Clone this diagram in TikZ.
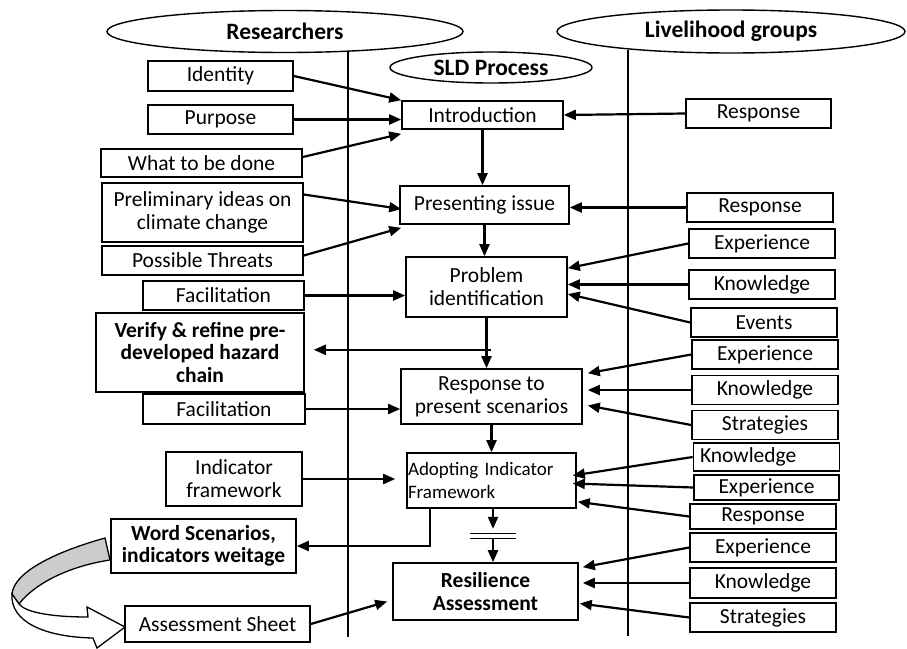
\documentclass[tikz,border=0pt]{standalone}
\usepackage{fontspec}
\setmainfont{Carlito}
\usetikzlibrary{shapes, arrows.meta, positioning, calc}

\begin{document}
\begin{tikzpicture}[x=1pt, y=-1pt,
            box/.style={draw=black, line width=1.6pt, inner sep=1pt, align=center, font=\fontsize{21.5}{23}\selectfont},
            bbox/.style={box, font=\bfseries\fontsize{21.5}{22.5}\selectfont},
            rbox/.style={box, minimum width=146pt, minimum height=29pt},
            hd/.style={ellipse, draw=black, line width=1.4pt, inner sep=0pt, font=\bfseries\fontsize{23.5}{26}\selectfont},
            arr/.style={-{Triangle[length=12pt, width=10pt]}, line width=2.2pt},
            vl/.style={draw=black, line width=1.6pt}]
            \useasboundingbox (0,0) rectangle (907,648);
            % headings
            \node[hd, minimum width=356pt, minimum height=42pt] (re) at (285,31.5) {Researchers};
            \node[hd, minimum width=348pt, minimum height=43pt] (lg) at (731,31.5) {Livelihood groups};
            \node[hd, minimum width=202pt, minimum height=31pt] (sld) at (491,67.5) {SLD Process};
            \draw[vl] (348,51) -- (348,637);
            \draw[vl] (628,50) -- (628,636);
            % process
            \node[box, minimum width=161pt, minimum height=28pt] (in) at (482.5,115) {Introduction};
            \node[box, minimum width=169pt, minimum height=38pt] (ps) at (484.5,205) {Presenting issue};
            \node[box, minimum width=161pt, minimum height=60pt] (pi) at (486.5,287) {Problem\\identification};
            \node[box, minimum width=181pt, minimum height=55pt] (rp) at (491.5,396.5) {Response to\\present scenarios};
            \node[box, text width=167pt, minimum height=55pt, align=left, font=\fontsize{19}{23}\selectfont] (ad) at (491.5,480.5) {Adopting Indicator\\Framework};
            \node[bbox, minimum width=185pt, minimum height=57pt] (ra) at (485.5,591.5) {Resilience\\Assessment};
            % researchers
            \node[box, minimum width=145pt, minimum height=30pt] (id) at (220.5,76) {Identity};
            \node[box, minimum width=145pt, minimum height=29pt] (pu) at (220.5,119.5) {Purpose};
            \node[box, minimum width=201pt, minimum height=28pt] (wd) at (201.5,163) {What to be done};
            \node[box, minimum width=201pt, minimum height=59pt] (pr) at (202.5,212.5) {Preliminary ideas on\\climate change};
            \node[box, minimum width=201pt, minimum height=29pt] (pt) at (202.5,260.5) {Possible Threats};
            \node[box, minimum width=161pt, minimum height=29pt] (fa1) at (223.5,295.5) {Facilitation};
            \node[bbox, minimum width=208pt, minimum height=79pt] (vf) at (200,352.5) {Verify \& refine pre-\\developed hazard\\chain};
            \node[box, minimum width=162pt, minimum height=30pt] (fa2) at (224,409) {Facilitation};
            \node[box, minimum width=136pt, minimum height=54pt] (ind) at (234,479) {Indicator\\framework};
            \node[bbox, minimum width=185pt, minimum height=54pt] (ws) at (203.5,546) {Word Scenarios,\\indicators weitage};
            \node[box, minimum width=185pt, minimum height=36pt] (as) at (217.5,624) {Assessment Sheet};
            % livelihood groups
            \node[rbox, minimum width=145pt] (r1) at (758.5,113.5) {Response};
            \node[rbox] (r2) at (760,207.5) {Response};
            \node[rbox] (ex1) at (762,243.5) {Experience};
            \node[rbox] (kn1) at (762,284.5) {Knowledge};
            \node[rbox] (ev) at (764,322.5) {Events};
            \node[rbox] (ex2) at (765,354.5) {Experience};
            \node[rbox] (kn2) at (765,390) {Knowledge};
            \node[rbox] (st1) at (765,425) {Strategies};
            \node[rbox, text width=139pt, minimum height=28pt, align=left] (kn3) at (766.5,457) {\hspace{3pt}Knowledge};
            \node[rbox, minimum width=145pt, minimum height=25pt] (ex3) at (766.5,487.5) {Experience};
            \node[rbox, minimum height=25pt] (re3) at (763,516.5) {Response};
            \node[rbox] (ex4) at (763,547.5) {Experience};
            \node[rbox, minimum height=30pt] (kn4) at (763,583) {Knowledge};
            \node[rbox] (st2) at (763,617.5) {Strategies};
            % flow
            \draw[arr] (in.south) -- (in.south |- ps.north);
            \draw[arr] (ps.south) -- (ps.south |- pi.north);
            \draw[arr] (pi.south) -- (pi.south |- rp.north);
            \draw[arr] (rp.south) -- (rp.south |- ad.north);
            \coordinate (c1) at ($(ad.south)+(1.5,20)$);
            \coordinate (c2) at ($(c1)+(0,10)$);
            \draw[arr] (ad.south -| c1) -- (c1);
            \draw[line width=1.3pt] ($(c1)+(-23,5)$) -- ++(46,0) ($(c1)+(-23,10)$) -- ++(46,0);
            \draw[arr] (c2) -- (c2 |- ra.north);
            \coordinate (vs) at ($(pi.south)+(4,32)$);
            \draw[arr] (vs) -- ($(vs -| vf.east)+(9,0)$);
            \draw[arr] ($(ad.south west)+(24,0)$) |- (ws.east);
            % from researchers
            \draw[arr] (id.east) -- (in.north west);
            \draw[arr] (pu.east) -- (pu.east -| in.west);
            \draw[arr] ($(wd.east)+(0,-6)$) -- ($(in.south west)+(0,4)$);
            \draw[arr] ($(pr.east)+(0,-18)$) -- ($(ps.west)+(2,4)$);
            \draw[arr] ($(pt.east)+(0,-5)$) -- ($(ps.south west)+(2,3)$);
            \draw[arr] (fa1.east) -- (fa1.east -| pi.west);
            \draw[arr] (fa2.east) -- (fa2.east -| rp.west);
            \draw[arr] (ind.east) -- ($(ind.east -| ad.west)+(-11,0)$);
            \draw[arr] (as.east) -- ($(ra.west)+(-5,10)$);
            % from livelihood groups
            \draw[arr] (r1.west) -- (in.east);
            \draw[arr] (r2.west) -- (r2.west -| ps.east);
            \draw[arr] (ex1.west) -- ($(pi.north east)+(0,12)$);
            \draw[arr] (kn1.west) -- (kn1.west -| pi.east);
            \draw[arr] (ev.west) -- ($(pi.east)+(0,7)$);
            \draw[arr] (ex2.west) -- ($(rp.north east)+(5,5)$);
            \draw[arr] (kn2.west) -- ($(kn2.west -| rp.east)+(5,0)$);
            \draw[arr] (st1.west) -- ($(rp.east)+(5,9)$);
            \draw[arr] (kn3.west) -- ($(ad.east)+(-4,-5)$);
            \draw[arr] (ex3.west) -- ($(ad.east)+(-4,3)$);
            \draw[arr] (re3.west) -- ($(ad.south east)+(1,-7)$);
            \draw[arr] (ex4.west) -- ($(ra.north east)+(4,5)$);
            \draw[arr] (kn4.west) -- ($(kn4.west -| ra.east)+(4,0)$);
            \draw[arr] (st2.west) -- ($(ra.east)+(1,12)$);
            % curved block arrow
            \filldraw[fill=gray!40, line width=1.3pt] (105,538) .. controls (55,552) and (14,572) .. (12,594)
                -- (19,604) .. controls (35,583) and (70,566) .. (110,560) -- cycle;
            \filldraw[fill=white, line width=1.3pt] (12,594) .. controls (10,622) and (45,637) .. (93,638)
                -- (97,648) -- (125,627) -- (87,607) -- (88,617) .. controls (50,617) and (25,612) .. (19,604) -- cycle;
        \end{tikzpicture}
\end{document}
